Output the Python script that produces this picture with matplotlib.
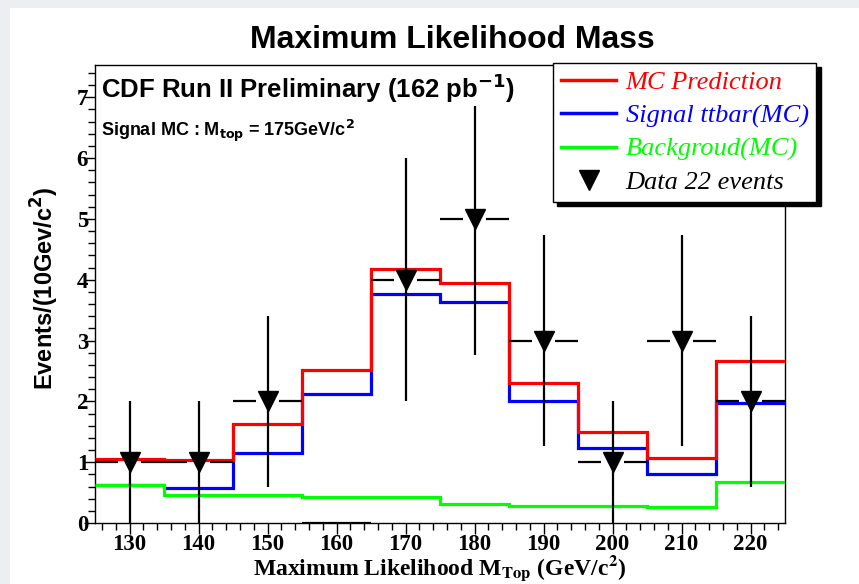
import matplotlib
matplotlib.use("Agg")
import matplotlib.pyplot as plt
from matplotlib.lines import Line2D
from matplotlib.patches import Rectangle
import numpy as np

# bins of 10 GeV/c^2
bin_edges = [125, 135, 145, 155, 165, 175, 185, 195, 205, 215, 225]
bin_centers = [130, 140, 150, 160, 170, 180, 190, 200, 210, 220]

mc_prediction = [1.05, 1.03, 1.62, 2.52, 4.18, 3.95, 2.30, 1.50, 1.07, 2.66]
signal_mc = [0.62, 0.58, 1.15, 2.12, 3.76, 3.63, 2.00, 1.23, 0.80, 1.98]
background_mc = [0.63, 0.46, 0.46, 0.42, 0.42, 0.32, 0.28, 0.28, 0.26, 0.67]

data_counts = [1, 1, 2, 0, 4, 5, 3, 1, 3, 2]
data_err = [1.0, 1.0, 1.41, 0.0, 2.0, 2.24, 1.73, 1.0, 1.73, 1.41]

y_ticks = [0, 1, 2, 3, 4, 5, 6, 7]
x_ticks = [130, 140, 150, 160, 170, 180, 190, 200, 210, 220]

W, H = 859, 584
fig = plt.figure(figsize=(W / 100, H / 100), dpi=100, facecolor="#eceef1")
fig.patches.append(Rectangle((10 / W, 0), 1, 1 - 8 / H, transform=fig.transFigure,
                             facecolor="white", edgecolor="none", zorder=-10))

ax = fig.add_axes([95 / W, 1 - 523 / H, 690 / W, 458 / H])
ax.set_xlim(125, 225)
ax.set_ylim(0, 7.53)

ax.stairs(signal_mc, bin_edges, baseline=None, color="#0000ff", lw=2.3, zorder=3)
ax.stairs(mc_prediction, bin_edges, baseline=None, color="#ff0000", lw=2.3, zorder=3)
ax.stairs(background_mc, bin_edges, baseline=None, color="#00ff00", lw=2.3, zorder=4)

x = np.array(bin_centers, dtype=float)
y = np.array(data_counts, dtype=float)
e = np.array(data_err)
has = y > 0
half = 5.0
gap = 1.6

# data: horizontal bin-width bars with a gap around the marker
ax.hlines(y[has], x[has] - half, x[has] - gap, color="black", lw=1.6, zorder=5)
ax.hlines(y[has], x[has] + gap, x[has] + half, color="black", lw=1.6, zorder=5)
ax.hlines(y[~has], x[~has] - half, x[~has] + half, color="black", lw=1.6, zorder=5)
ax.vlines(x[has], y[has] - e[has], y[has] + e[has], color="black", lw=1.6, zorder=5)
ax.plot(x[has], y[has], "v", color="black", ms=14, zorder=6)

for s in ax.spines.values():
    s.set_linewidth(1.0)
ax.set_xticks(x_ticks)
ax.set_yticks(y_ticks)
ax.set_xticks(np.arange(126, 225, 2), minor=True)
ax.set_yticks(np.arange(0, 7.5, 0.2), minor=True)
ax.tick_params(axis="both", direction="out", length=8, width=1, pad=0)
ax.tick_params(axis="both", which="minor", direction="out", length=5, width=1)
ax.tick_params(axis="y", pad=-3)
for lab in ax.get_xticklabels() + ax.get_yticklabels():
    lab.set_fontfamily("Liberation Serif")
    lab.set_fontweight("bold")
    lab.set_fontsize(16.5)

ax.text(0.008, 0.985, "CDF Run II Preliminary (162 pb$^{\\mathbf{-1}}$)", transform=ax.transAxes,
        ha="left", va="top", fontsize=18.5, fontweight="bold", fontfamily="Liberation Sans",
        math_fontfamily="dejavusans", zorder=7,
        bbox=dict(facecolor="white", edgecolor="none", pad=0.5))
ax.text(0.008, 0.885, r"Signal MC : M$_{\mathbf{top}}$ = 175GeV/c$^{\mathbf{2}}$",
        transform=ax.transAxes, ha="left", va="top", fontsize=13, fontweight="bold",
        fontfamily="Liberation Sans", math_fontfamily="dejavusans", zorder=7)

fig.text(452 / W, 1 - 40 / H, "Maximum Likelihood Mass", ha="center", va="center",
         fontsize=23, fontweight="bold", fontfamily="Liberation Sans")
fig.text(45 / W, 1 - 288 / H, r"Events/(10Gev/c$^{\mathbf{2}}$)", rotation=90,
         ha="center", va="center", fontsize=17, fontweight="bold", fontfamily="Liberation Sans",
         math_fontfamily="dejavusans")
fig.text(440 / W, 1 - 568 / H, r"Maximum Likelihood M$_{\mathbf{Top}}$ (GeV/c$^{\mathbf{2}}$)",
         ha="center", va="center", fontsize=17, fontweight="bold", fontfamily="Liberation Serif",
         math_fontfamily="stix")

handles = [
    Line2D([], [], color="#ff0000", lw=2.5),
    Line2D([], [], color="#0000ff", lw=2.5),
    Line2D([], [], color="#00ff00", lw=2.5),
    Line2D([], [], color="black", marker="v", ls="none", ms=14),
]
labels = ["MC Prediction", "Signal ttbar(MC)", "Backgroud(MC)", "Data 22 events"]
leg = fig.legend(handles, labels, loc="upper left", bbox_to_anchor=(553 / W, 1 - 63 / H),
                 prop={"family": "Liberation Serif", "style": "italic", "size": 19},
                 labelcolor=["#ff0000", "#0000ff", "#00ff00", "black"],
                 fancybox=False, edgecolor="black", framealpha=1, handlelength=2.1,
                 handletextpad=0.35, labelspacing=0.36, borderpad=0.3, borderaxespad=0,
                 shadow={"ox": 3, "oy": -3, "color": "black", "alpha": 1})
leg.get_frame().set_linewidth(1.0)

fig.savefig("out.png", dpi=100, facecolor=fig.get_facecolor())
